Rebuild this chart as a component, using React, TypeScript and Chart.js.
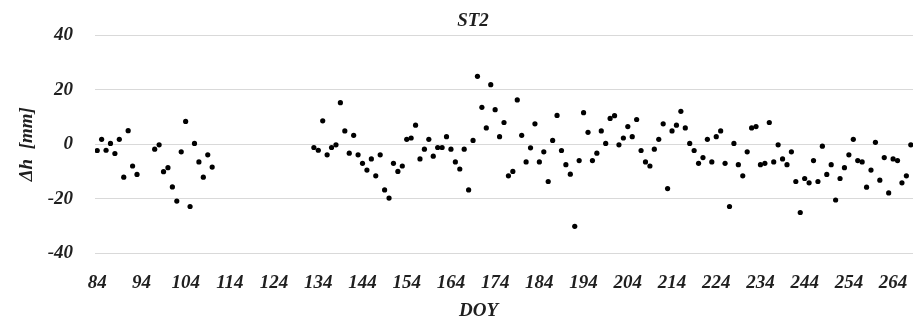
import React, { useEffect, useRef } from "react";
import { Chart, registerables } from "chart.js";

Chart.register(...registerables);

const TITLE = "ST2";
const X_TITLE = "DOY";
const Y_TITLE = "Δh  [mm]";

const DOY: number[] = [
  84, 85, 86, 87, 88, 89, 90, 91, 92, 93,
  97, 98, 99, 100, 101, 102, 103, 104, 105, 106, 107, 108, 109, 110,
  133, 134, 135, 136, 137, 138, 139, 140, 141, 142, 143, 144, 145, 146, 147, 148, 149, 150,
  151, 152, 153, 154, 155, 156, 157, 158, 159, 160, 161, 162, 163, 164, 165, 166, 167, 168, 169, 170,
  171, 172, 173, 174, 175, 176, 177, 178, 179, 180, 181, 182, 183, 184, 185, 186, 187, 188, 189, 190,
  191, 192, 193, 194, 195, 196, 197, 198, 199, 200, 201, 202, 203, 204, 205, 206, 207, 208, 209, 210,
  211, 212, 213, 214, 215, 216, 217, 218, 219, 220, 221, 222, 223, 224, 225, 226, 227, 228, 229, 230,
  231, 232, 233, 234, 235, 236, 237, 238, 239, 240, 241, 242, 243, 244, 245, 246, 247, 248, 249, 250,
  251, 252, 253, 254, 255, 256, 257, 258, 259, 260, 261, 262, 263, 264, 265, 266, 267, 268,
];

const DH: number[] = [
  -2.3, 1.8, -2.2, 0.3, -3.4, 1.8, -12.1, 5.0, -8.0, -11.1,
  -1.8, -0.2, -10.1, -8.6, -15.7, -20.9, -2.8, 8.4, -22.9, 0.3, -6.5, -12.1, -3.9, -8.4,
  -1.2, -2.2, 8.6, -3.9, -1.2, -0.2, 15.3, 4.9, -3.3, 3.3, -3.9, -7.0, -9.5, -5.4, -11.6, -3.9, -16.8, -19.8,
  -7.0, -10.0, -8.0, 1.8, 2.3, 7.0, -5.4, -1.8, 1.8, -4.4, -1.2, -1.2, 2.8, -1.8, -6.5, -9.1, -1.8, -16.8, 1.4, 25.0,
  13.6, 6.0, 21.9, 12.7, 2.8, 8.0, -11.6, -10.0, 16.3, 3.3, -6.5, -1.3, 7.5, -6.5, -2.8, -13.7, 1.4, 10.6, -2.3, -7.5,
  -11.0, -30.2, -6.0, 11.6, 4.4, -6.0, -3.3, 4.9, 0.3, 9.5, 10.5, -0.2, 2.3, 6.5, 2.8, 9.1, -2.3, -6.5, -8.0, -1.8,
  1.8, 7.5, -16.3, 4.9, 7.0, 12.1, 6.0, 0.3, -2.3, -7.0, -4.9, 1.8, -6.5, 2.8, 4.9, -7.0, -22.9, 0.3, -7.5, -11.6,
  -2.8, 6.0, 6.5, -7.5, -7.0, 8.0, -6.5, -0.2, -5.4, -7.5, -2.8, -13.7, -25.1, -12.6, -14.2, -6.0, -13.7, -0.7, -11.1, -7.5,
  -20.5, -12.6, -8.6, -3.9, 1.8, -6.0, -6.5, -15.8, -9.5, 0.7, -13.2, -4.9, -17.9, -5.4, -6.0, -14.2, -11.6, -0.2,
];

const X_TICKS: number[] = [84, 94, 104, 114, 124, 134, 144, 154, 164, 174, 184, 194, 204, 214, 224, 234, 244, 254, 264];
const Y_TICKS: number[] = [-40, -20, 0, 20, 40];

const FONT_FAMILY = "'Liberation Serif', 'Times New Roman', serif";
const TEXT_COLOR = "#1f1f1f";

const labelsPlugin = {
  id: "freeLabels",
  afterDraw(chart: any) {
    const ctx = chart.ctx;
    ctx.save();
    ctx.font = `italic bold 19px ${FONT_FAMILY}`;
    ctx.fillStyle = TEXT_COLOR;
    ctx.textAlign = "center";
    ctx.textBaseline = "middle";
    ctx.fillText(TITLE, 473, 21.5);
    ctx.fillText(X_TITLE, 478.5, 311);
    ctx.restore();
  },
};

export default function App() {
  const ref = useRef<HTMLCanvasElement | null>(null);

  useEffect(() => {
    const canvas = ref.current;
    if (!canvas) return;
    const font = { family: FONT_FAMILY, size: 19, style: "italic" as const, weight: "bold" as const };
    const chart = new Chart(canvas, {
      type: "scatter",
      data: {
        datasets: [
          {
            label: TITLE,
            data: DOY.map((d, i) => ({ x: d, y: DH[i] })),
            backgroundColor: "#000000",
            borderColor: "#000000",
            borderWidth: 0,
            pointRadius: 2.6,
            pointHoverRadius: 2.6,
          },
        ],
      },
      plugins: [labelsPlugin],
      options: {
        responsive: false,
        animation: false,
        layout: { autoPadding: false, padding: { left: 0, right: 2, top: 35.5, bottom: 0 } },
        plugins: {
          legend: { display: false },
          tooltip: { enabled: false },
          title: { display: false },
        },
        scales: {
          x: {
            type: "linear",
            min: 83.5,
            max: 268.5,
            afterBuildTicks: (scale: any) => {
              scale.ticks = X_TICKS.map((v) => ({ value: v }));
            },
            afterFit: (scale: any) => {
              scale.height = 71;
              scale.paddingLeft = 0;
              scale.paddingRight = 0;
            },
            grid: { display: false, drawTicks: false },
            border: { display: false },
            ticks: {
              color: TEXT_COLOR,
              font,
              padding: 19,
              maxRotation: 0,
              autoSkip: false,
              callback: (v: any) => String(v),
            },
            title: { display: false },
          },
          y: {
            type: "linear",
            min: -40,
            max: 40,
            afterBuildTicks: (scale: any) => {
              scale.ticks = Y_TICKS.map((v) => ({ value: v }));
            },
            afterFit: (scale: any) => {
              scale.width = 95;
              scale.paddingTop = 0;
              scale.paddingBottom = 0;
            },
            grid: { color: "#d9d9d9", lineWidth: 1, drawTicks: false },
            border: { display: false },
            ticks: {
              color: TEXT_COLOR,
              font,
              padding: 22,
              callback: (v: any) => String(v),
            },
            title: {
              display: true,
              text: Y_TITLE,
              color: TEXT_COLOR,
              font,
              padding: { top: 16, bottom: 0 },
            },
          },
        },
      },
    });
    return () => chart.destroy();
  }, []);

  return (
    <div style={{ position: "absolute", left: 0, top: 0, width: 915, height: 324, background: "#ffffff" }}>
      <canvas ref={ref} width={915} height={324} style={{ display: "block", width: 915, height: 324 }} />
    </div>
  );
}
